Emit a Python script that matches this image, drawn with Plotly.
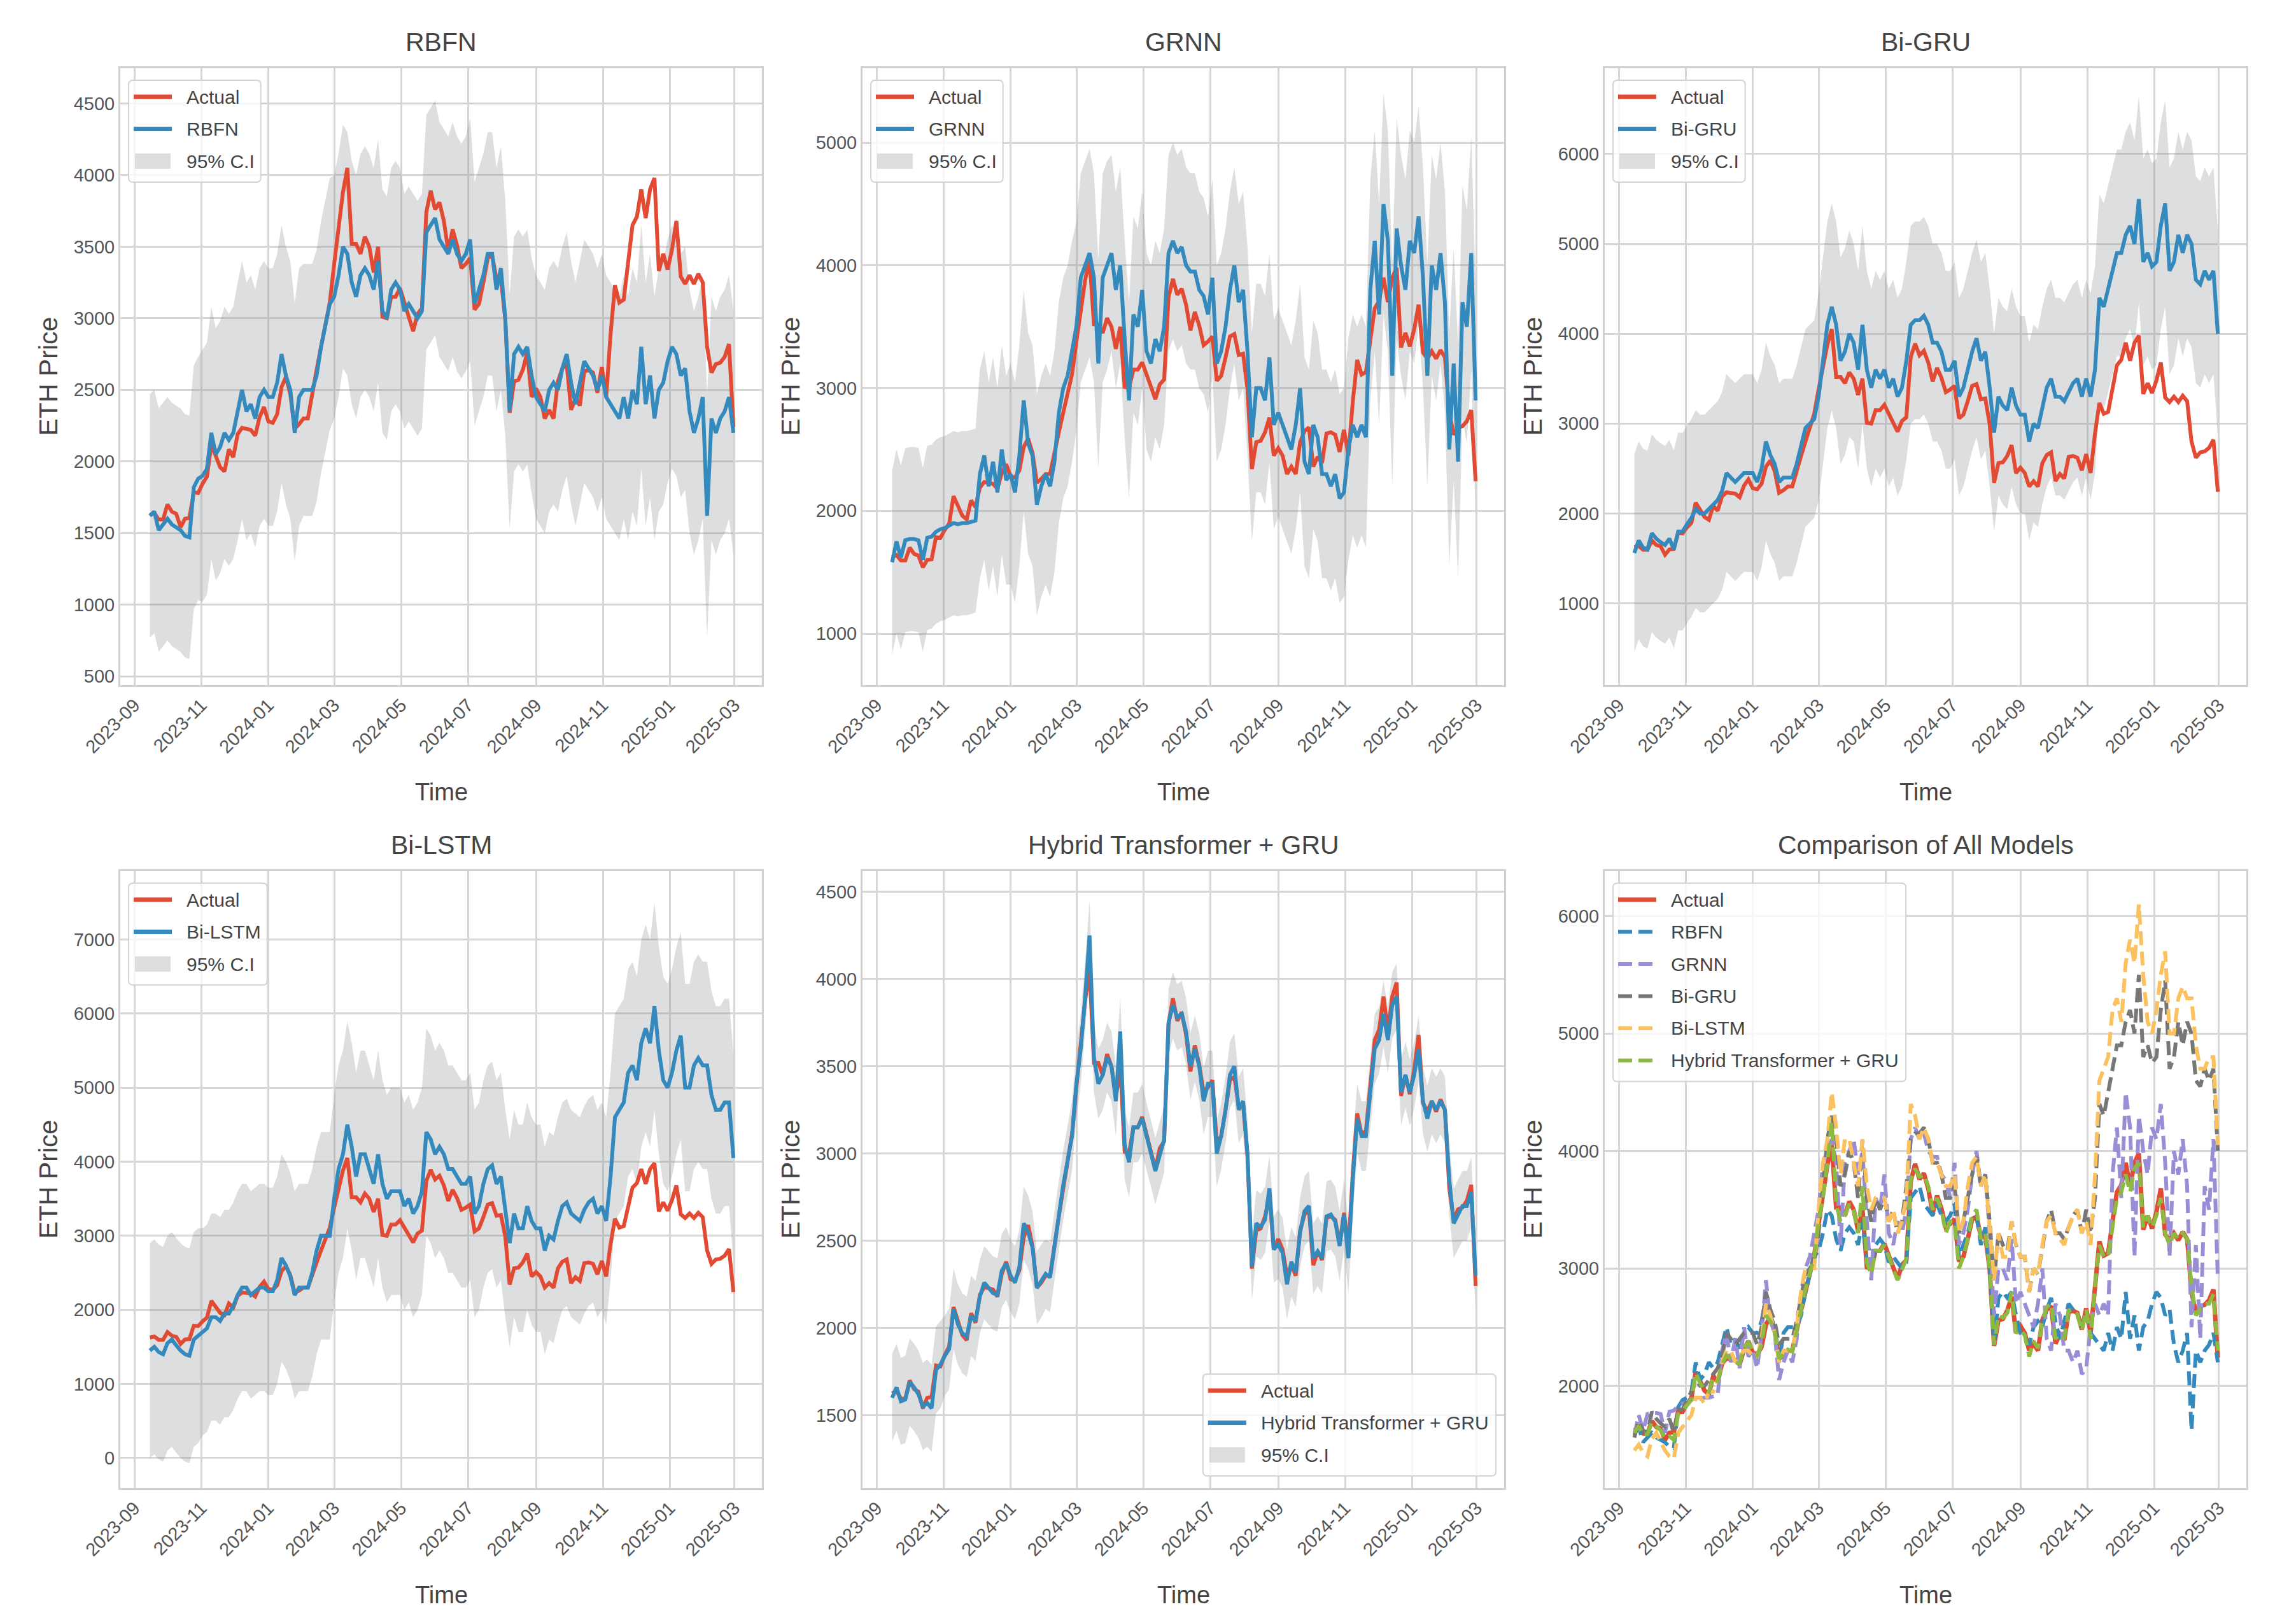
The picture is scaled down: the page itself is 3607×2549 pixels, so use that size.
import pandas as pd
import plotly.graph_objects as go

# ETH price series, one value every 4 days
START = "2023-09-15"

ACTUAL = [
    1625, 1640, 1595, 1595, 1700, 1650, 1635, 1540, 1600, 1605,
    1785, 1780, 1845, 1895, 2120, 2045, 1960, 1930, 2085, 2030,
    2190, 2235, 2225, 2220, 2180, 2310, 2380, 2280, 2270, 2330,
    2520, 2590, 2470, 2230, 2260, 2300, 2300, 2490, 2640, 2800,
    2940, 3110, 3380, 3640, 3880, 4050, 3520, 3520, 3450, 3570,
    3500, 3320, 3500, 3010, 3000, 3150, 3150, 3210, 3100, 3010,
    2910, 3030, 3070, 3740, 3890, 3760, 3810, 3680, 3470, 3620,
    3510, 3350, 3380, 3420, 3060, 3100, 3250, 3420, 3440, 3270,
    3280, 2990, 2340, 2560, 2570, 2640, 2760, 2450, 2510, 2450,
    2300, 2360, 2300, 2560, 2650, 2680, 2360, 2440, 2390, 2630,
    2640, 2620, 2480, 2660, 2450, 2890, 3230, 3110, 3130, 3400,
    3650, 3710, 3900, 3700, 3900, 3980, 3330, 3450, 3340, 3480,
    3680, 3290, 3240, 3300, 3240, 3310, 3250, 2800, 2620, 2680,
    2690, 2730, 2820, 2240,
]

RBFN = [
    1620, 1650, 1520, 1560, 1600, 1560, 1540, 1520, 1480, 1470,
    1820, 1880, 1900, 1950, 2200, 2050, 2100, 2200, 2150, 2200,
    2350, 2500, 2350, 2400, 2300, 2450, 2500, 2450, 2450, 2550,
    2750, 2600, 2500, 2200, 2450, 2500, 2500, 2500, 2600, 2800,
    2950, 3100, 3150, 3300, 3500, 3450, 3250, 3150, 3300, 3350,
    3300, 3200, 3400, 3050, 3000, 3200, 3250, 3200, 3050, 3100,
    3050, 3000, 3050, 3600, 3650, 3700, 3550, 3500, 3450, 3550,
    3450, 3400, 3450, 3550, 3100, 3200, 3300, 3450, 3450, 3200,
    3350, 3000, 2350, 2750, 2800, 2750, 2800, 2600, 2450, 2400,
    2350, 2500, 2550, 2500, 2650, 2750, 2550, 2400, 2550, 2700,
    2650, 2600, 2500, 2600, 2450, 2400, 2350, 2300, 2450, 2300,
    2500, 2400, 2800, 2400, 2600, 2300, 2500, 2550, 2700, 2800,
    2750, 2600, 2650, 2350, 2200, 2300, 2450, 1620, 2300, 2200,
    2300, 2350, 2450, 2200,
]

GRNN = [
    1580, 1750, 1620, 1760, 1770, 1770, 1760, 1600, 1780, 1790,
    1830, 1850, 1860, 1880, 1900, 1890, 1900, 1900, 1910, 1920,
    2300, 2450, 2200, 2400, 2150, 2500, 2250, 2300, 2150, 2450,
    2900, 2550, 2450, 2050, 2200, 2300, 2200, 2400, 2800, 3000,
    3100, 3300, 3500, 3900, 4000, 4100, 3900, 3200, 3900, 4000,
    4100, 3800, 4000, 3400, 2900, 3600, 3500, 3800, 3300, 3200,
    3400, 3300, 3500, 4100, 4200, 4100, 4150, 4000, 3950, 3950,
    3800, 3750, 3600, 3900, 3200, 3300, 3500, 3800, 4000, 3700,
    3800, 3300, 2600, 3000, 3000, 2900, 3250, 2700, 2800, 2700,
    2600, 2500, 2700, 3000, 2400, 2300, 2700, 2600, 2300, 2300,
    2200, 2300, 2100, 2150, 2500, 2700, 2600, 2700, 2600, 3800,
    4200, 3600, 4500, 4200, 3100, 4300, 4000, 3800, 4200, 4100,
    4400, 3900, 3100, 4000, 3800, 4100, 3700, 2500, 3200, 2400,
    3700, 3500, 4100, 2900,
]

BIGRU = [
    1560, 1700, 1620, 1600, 1780, 1720, 1680, 1650, 1720, 1600,
    1800, 1800, 1880, 1950, 2050, 2000, 2000, 2050, 2100, 2150,
    2250, 2450, 2400, 2350, 2400, 2450, 2450, 2450, 2350, 2500,
    2800, 2650, 2550, 2350, 2400, 2400, 2400, 2550, 2750, 2950,
    3000, 3050, 3300, 3700, 4100, 4300, 4100, 3700, 3800, 4000,
    3900, 3600, 4100, 3600, 3400, 3600, 3500, 3600, 3400, 3500,
    3300, 3400, 3700, 4100, 4150, 4150, 4200, 4100, 3900, 3900,
    3800, 3600, 3600, 3700, 3300, 3400, 3600, 3800, 3950, 3700,
    3800, 3400, 2900, 3300, 3200, 3150, 3400, 3200, 3100, 3100,
    2800, 3000, 2950, 3200, 3400, 3500, 3300, 3300, 3250, 3350,
    3450, 3500, 3300, 3500, 3300, 3600, 4400, 4300, 4500, 4700,
    4900, 4900, 5100, 5200, 5000, 5500, 4800, 4900, 4750, 4800,
    5200, 5450, 4700, 4800, 5100, 4900, 5100, 5000, 4600, 4550,
    4700, 4600, 4700, 4000,
]

BILSTM = [
    1450, 1500, 1430, 1400, 1550, 1600, 1520, 1450, 1400, 1380,
    1600, 1650, 1700, 1750, 1900, 1900, 1850, 1950, 1950, 2050,
    2200, 2300, 2300, 2200, 2250, 2300, 2300, 2250, 2250, 2400,
    2700, 2600, 2450, 2200, 2300, 2300, 2300, 2500, 2800, 3000,
    3000, 3000, 3500, 3900, 4100, 4500, 4200, 3800, 4100, 4100,
    3900, 3700, 4100, 3700, 3500, 3600, 3600, 3600, 3400, 3500,
    3300, 3400, 3600, 4400, 4300, 4100, 4200, 4100, 3900, 3900,
    3800, 3700, 3700, 3800, 3300, 3400, 3700, 3900, 3950, 3700,
    3800, 3300, 2900, 3300, 3100, 3100, 3400, 3200, 3100, 3100,
    2800, 3000, 2950, 3200, 3400, 3450, 3300, 3250, 3200, 3350,
    3450, 3500, 3300, 3400, 3200, 3800, 4600, 4700, 4800, 5200,
    5300, 5100, 5600, 5800, 5600, 6100, 5500, 5100, 5000, 5200,
    5500, 5700, 5000, 5000, 5300, 5400, 5300, 5300, 4900, 4700,
    4700, 4800, 4800, 4050,
]

HYBRID = [
    1600, 1660, 1580, 1590, 1690, 1660, 1620, 1550, 1570, 1540,
    1760, 1790, 1840, 1880, 2110, 2020, 1970, 1950, 2070, 2040,
    2180, 2260, 2230, 2200, 2190, 2330, 2370, 2300, 2260, 2350,
    2600, 2550, 2460, 2230, 2270, 2310, 2290, 2470, 2650, 2820,
    2960, 3100, 3400, 3600, 3900, 4250, 3550, 3400, 3450, 3550,
    3500, 3300, 3700, 3050, 2950, 3150, 3150, 3200, 3100, 3000,
    2900, 2990, 3080, 3750, 3850, 3780, 3800, 3700, 3500, 3600,
    3500, 3300, 3400, 3400, 3000, 3100, 3250, 3450, 3500, 3250,
    3300, 3000, 2350, 2600, 2580, 2620, 2800, 2450, 2480, 2430,
    2250, 2380, 2320, 2550, 2670, 2700, 2400, 2440, 2400, 2640,
    2650, 2610, 2470, 2650, 2400, 2850, 3200, 3100, 3100, 3350,
    3600, 3650, 3800, 3650, 3850, 3900, 3350, 3450, 3350, 3450,
    3600, 3300, 3200, 3300, 3250, 3300, 3250, 2850, 2600, 2650,
    2700, 2700, 2780, 2300,
]

# half-width of the 95% band, one value per month (2023-09 .. 2025-02)
RBFN_HW = [850, 850, 880, 900, 900, 880, 850, 850, 820, 820, 850, 820, 850, 850, 850, 850, 850, 850]
GRNN_HW = [750, 750, 750, 850, 900, 900, 850, 800, 800, 800, 800, 850, 850, 850, 900, 900, 900, 950]
BIGRU_HW = [1100, 1100, 1100, 1100, 1100, 1100, 1150, 1100, 1100, 1100, 1100, 1100, 1100, 1100, 1150, 1150, 1150, 1150]
BILSTM_HW = [1450, 1450, 1400, 1400, 1400, 1400, 1400, 1400, 1400, 1400, 1400, 1400, 1400, 1400, 1400, 1400, 1400, 1400]
HYBRID_HW = [250, 250, 230, 210, 210, 200, 200, 200, 190, 190, 190, 190, 200, 200, 200, 190, 190, 200]

for name, s in [("RBFN", RBFN), ("GRNN", GRNN), ("BIGRU", BIGRU), ("BILSTM", BILSTM), ("HYBRID", HYBRID)]:
    if len(s) != len(ACTUAL):
        raise ValueError(f"{name} has {len(s)} values, expected {len(ACTUAL)}")

dates = pd.date_range(START, periods=len(ACTUAL), freq="4D")
month_idx = [(d.year - 2023) * 12 + d.month - 9 for d in dates]

W, H = 3607, 2549
RED = "#E24A33"
BLUE = "#348ABD"
BAND = "rgba(130,132,138,0.27)"
TXT = "#555555"
LBL = "#444444"
FONT = "Liberation Sans, Arial, sans-serif"
DASH = "22px,10px"

# axes boxes in pixels: left, right, top, bottom
COLS = [(181, 1189), (1347, 2355), (2513, 3521)]
ROWS = [(99, 1068), (1360, 2329)]

# Arial advance widths (per 1000 em), used to size the legend boxes
CHAR_W = {
    "A": 667, "B": 667, "C": 722, "F": 611, "G": 778, "H": 722, "I": 278, "L": 556,
    "M": 833, "N": 722, "R": 722, "S": 667, "T": 611, "U": 722,
    "a": 556, "b": 556, "c": 500, "d": 556, "e": 556, "f": 278, "i": 222, "l": 222,
    "m": 833, "n": 556, "o": 556, "r": 333, "s": 500, "t": 278, "u": 556, "y": 500,
    "-": 333, "+": 584, " ": 278, "9": 556, "5": 556, "%": 889, ".": 278,
}
LEG_SIZE = 30


def text_w(s):
    return sum(CHAR_W.get(ch, 556) for ch in s) / 1000 * LEG_SIZE


def band(pred, hw):
    up = [p + hw[m] for p, m in zip(pred, month_idx)]
    lo = [p - hw[m] for p, m in zip(pred, month_idx)]
    return up, lo


def px(x):
    return x / W


def py(y):
    return 1 - y / H


panels = [
    ("RBFN", RBFN, RBFN_HW, [438, 4747], 500, "ul"),
    ("GRNN", GRNN, GRNN_HW, [580, 5607], 1000, "ul"),
    ("Bi-GRU", BIGRU, BIGRU_HW, [90, 6956], 1000, "ul"),
    ("Bi-LSTM", BILSTM, BILSTM_HW, [-406, 7924], 1000, "ul"),
    ("Hybrid Transformer + GRU", HYBRID, HYBRID_HW, [1083, 4619], 500, "lr"),
]

fig = go.Figure()
annotations = []
shapes = []
layout = {}


def rounded_rect(x0, y0, x1, y1, r=7):
    pts = [
        f"M {px(x0 + r)} {py(y0)}", f"L {px(x1 - r)} {py(y0)}",
        f"Q {px(x1)} {py(y0)} {px(x1)} {py(y0 + r)}", f"L {px(x1)} {py(y1 - r)}",
        f"Q {px(x1)} {py(y1)} {px(x1 - r)} {py(y1)}", f"L {px(x0 + r)} {py(y1)}",
        f"Q {px(x0)} {py(y1)} {px(x0)} {py(y1 - r)}", f"L {px(x0)} {py(y0 + r)}",
        f"Q {px(x0)} {py(y0)} {px(x0 + r)} {py(y0)}", "Z",
    ]
    return " ".join(pts)


def draw_legend(entries, box, pos):
    """entries: (label, kind, color) with kind in line / dash / patch."""
    left, right, top, bottom = box
    n = len(entries)
    bw = 89 + max(text_w(e[0]) for e in entries) + 12
    bh = 26 + 50.5 * (n - 1) + 33
    if pos == "ul":
        x0, y0 = left + 13, top + 19
    else:
        x0, y0 = right - 13 - bw, bottom - 19 - bh
    shapes.append(dict(type="path", path=rounded_rect(x0, y0, x0 + bw, y0 + bh),
                       xref="paper", yref="paper", fillcolor="rgba(255,255,255,0.8)",
                       line=dict(color="#d4d4d4", width=2), layer="above"))
    for i, (label, kind, color) in enumerate(entries):
        yc = y0 + 26 + 50.5 * i
        if kind == "patch":
            shapes.append(dict(type="rect", xref="paper", yref="paper",
                               x0=px(x0 + 10), x1=px(x0 + 66), y0=py(yc - 12), y1=py(yc + 12),
                               fillcolor=BAND, line=dict(width=0), layer="above"))
        else:
            shapes.append(dict(type="line", xref="paper", yref="paper",
                               x0=px(x0 + 8), x1=px(x0 + 68), y0=py(yc), y1=py(yc),
                               line=dict(color=color, width=7 if kind == "line" else 6,
                                         dash="solid" if kind == "line" else DASH),
                               layer="above"))
        annotations.append(dict(text=label, x=px(x0 + 89), y=py(yc), xref="paper", yref="paper",
                                xanchor="left", yanchor="middle", showarrow=False,
                                font=dict(size=LEG_SIZE, color=LBL, family=FONT)))


def setup_axes(k, yrange, dtick, title):
    col = (k - 1) % 3
    row = (k - 1) // 3
    left, right = COLS[col]
    top, bottom = ROWS[row]
    sfx = "" if k == 1 else str(k)
    common = dict(
        showgrid=True, gridcolor="#d6d6d6", gridwidth=3,
        showline=True, mirror=True, linecolor="#d0d0d0", linewidth=3,
        ticks="", zeroline=False, automargin=False,
        tickfont=dict(size=29, color=TXT, family=FONT),
    )
    layout["xaxis" + sfx] = dict(
        common, domain=[px(left), px(right)], anchor="y" + sfx, type="date",
        range=["2023-08-19", "2025-03-26"], tick0="2023-09-01", dtick="M2",
        tickformat="%Y-%m", tickangle=-45,
    )
    layout["yaxis" + sfx] = dict(
        common, domain=[py(bottom), py(top)], anchor="x" + sfx,
        range=yrange, tick0=0, dtick=dtick,
    )
    cx = px((left + right) / 2)
    annotations.append(dict(text=title, x=cx, y=py(top - 16), xref="paper", yref="paper",
                            xanchor="center", yanchor="bottom", showarrow=False,
                            font=dict(size=41, color=LBL, family=FONT)))
    annotations.append(dict(text="Time", x=cx, y=py(bottom + 168), xref="paper", yref="paper",
                            xanchor="center", yanchor="middle", showarrow=False,
                            font=dict(size=38, color=LBL, family=FONT)))
    annotations.append(dict(text="ETH Price", x=px(left - 114), y=py((top + bottom) / 2),
                            xref="paper", yref="paper", textangle=-90,
                            xanchor="center", yanchor="middle", showarrow=False,
                            font=dict(size=41, color=LBL, family=FONT)))
    return sfx, (left, right, top, bottom)


for k, (name, pred, hw, yrange, dtick, pos) in enumerate(panels, start=1):
    sfx, box = setup_axes(k, yrange, dtick, name)
    xa, ya = "x" + sfx, "y" + sfx
    up, lo = band(pred, hw)
    fig.add_trace(go.Scatter(
        x=list(dates) + list(dates[::-1]), y=up + lo[::-1], fill="toself",
        fillcolor=BAND, line=dict(width=0), mode="lines", name="95% C.I",
        xaxis=xa, yaxis=ya, showlegend=False, hoverinfo="skip",
    ))
    fig.add_trace(go.Scatter(x=dates, y=ACTUAL, mode="lines", name="Actual",
                             line=dict(color=RED, width=6), xaxis=xa, yaxis=ya, showlegend=False))
    fig.add_trace(go.Scatter(x=dates, y=pred, mode="lines", name=name,
                             line=dict(color=BLUE, width=6), xaxis=xa, yaxis=ya, showlegend=False))
    draw_legend([("Actual", "line", RED), (name, "line", BLUE), ("95% C.I", "patch", BAND)], box, pos)

# comparison panel
sfx, box = setup_axes(6, [1130, 6384], 1000, "Comparison of All Models")
fig.add_trace(go.Scatter(x=dates, y=ACTUAL, mode="lines", name="Actual",
                         line=dict(color=RED, width=7), xaxis="x6", yaxis="y6", showlegend=False))
compare = [
    ("RBFN", RBFN, "#348ABD"),
    ("GRNN", GRNN, "#988ED5"),
    ("Bi-GRU", BIGRU, "#777777"),
    ("Bi-LSTM", BILSTM, "#FBC15E"),
    ("Hybrid Transformer + GRU", HYBRID, "#8EBA42"),
]
for name, s, c in compare:
    fig.add_trace(go.Scatter(x=dates, y=s, mode="lines", name=name,
                             line=dict(color=c, width=6, dash=DASH),
                             xaxis="x6", yaxis="y6", showlegend=False))
draw_legend([("Actual", "line", RED)] + [(n, "dash", c) for n, _, c in compare], box, "ul")

fig.update_layout(
    width=W, height=H,
    margin=dict(l=0, r=0, t=0, b=0),
    paper_bgcolor="white", plot_bgcolor="white",
    font=dict(family=FONT, color=TXT),
    showlegend=False,
    annotations=annotations,
    shapes=shapes,
    **layout,
)

fig.write_html("out.html")
